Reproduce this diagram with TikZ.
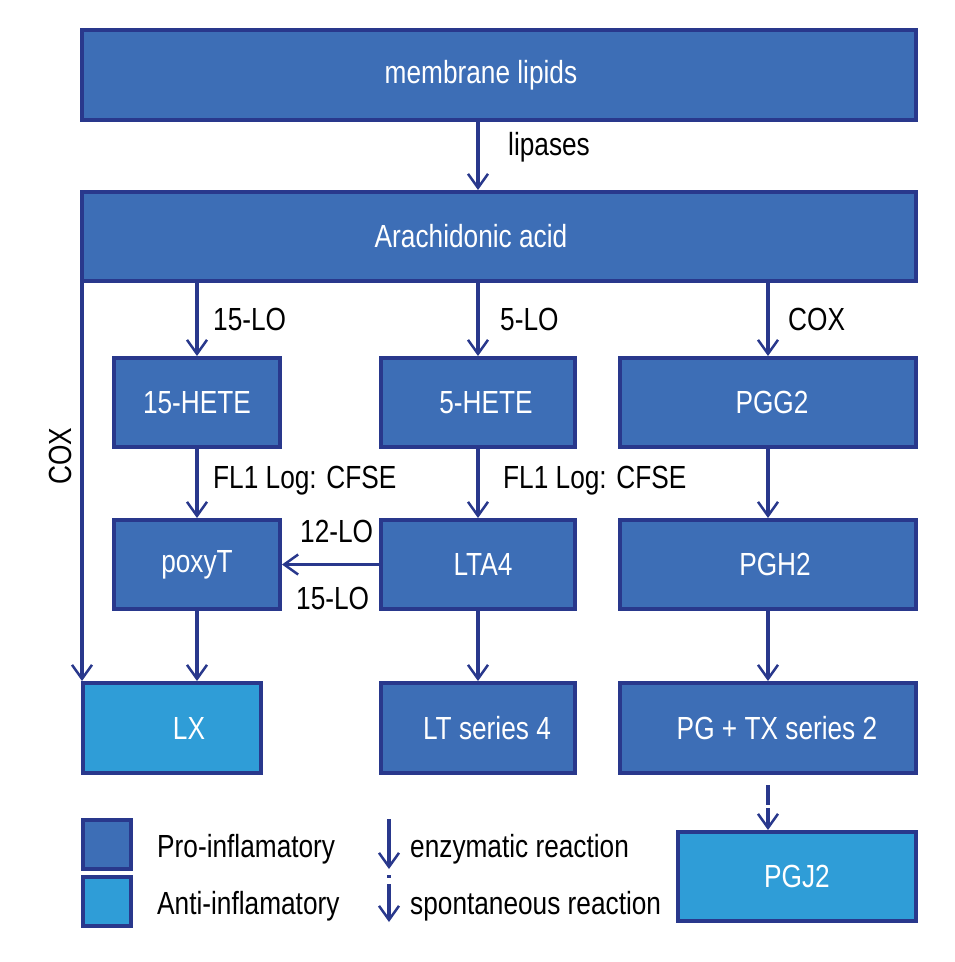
\documentclass[tikz,border=0pt]{standalone}
\usepackage{fontspec}
\setmainfont{Liberation Sans}[FakeStretch=0.82]
\usetikzlibrary{arrows.meta}
\definecolor{procol}{RGB}{61,110,182}
\definecolor{anticol}{RGB}{47,157,215}
\definecolor{navy}{RGB}{41,56,140}
\begin{document}
\begin{tikzpicture}[x=1pt,y=-1pt,
  every node/.style={font=\fontsize{32}{38}\selectfont},
  box/.style={draw=navy, line width=4pt, text=white, inner sep=0pt, minimum height=89pt},
  probox/.style={box, fill=procol},
  antibox/.style={box, fill=anticol},
  arr/.style={draw=navy, line width=3.5pt, -{Straight Barb[length=14pt,width=20pt,line width=2.5pt]}},
  lbl/.style={text=black, anchor=base west, inner sep=0pt},
  legsq/.style={draw=navy, line width=4pt, minimum width=48pt, minimum height=49pt, inner sep=0pt}
]
\useasboundingbox (0,0) rectangle (954,962);

% boxes
\node[probox, minimum width=834pt, minimum height=90pt] (mem) at (499,75) {membrane lipids\hspace*{36pt}};
\node[probox, minimum width=834pt] (ara) at (499,236.5) {Arachidonic acid\hspace*{56pt}};
\node[probox, minimum width=166pt] (h15) at (197,402.5) {15-HETE};
\node[probox, minimum width=194pt] (h5) at (478,402.5) {\hspace*{16pt}5-HETE};
\node[probox, minimum width=296pt] (pgg) at (768,402.5) {\hspace*{8pt}PGG2};
\node[probox, minimum width=166pt] (poxy) at (197,564.5) {poxyT};
\node[probox, minimum width=194pt] (lta) at (478,564.5) {\hspace*{10pt}LTA4};
\node[probox, minimum width=296pt] (pgh) at (768,564.5) {\hspace*{14pt}PGH2};
\node[antibox, minimum width=178pt, minimum height=90pt] (lx) at (172,728) {\hspace*{34pt}LX};
\node[probox, minimum width=194pt, minimum height=90pt] (lt) at (478,728) {\hspace*{18pt}LT series 4};
\node[probox, minimum width=296pt, minimum height=90pt] (pgtx) at (768,728) {\hspace*{18pt}PG + TX series 2};
\node[antibox, minimum width=238pt] (pgj) at (797,876.5) {PGJ2};

% connectors
\draw[arr] (mem.south -| h5) -- (ara.north -| h5);
\draw[arr] (ara.south -| h15) -- (h15.north);
\draw[arr] (ara.south -| h5) -- (h5.north);
\draw[arr] (ara.south -| pgg) -- (pgg.north);
\draw[arr] ([xshift=2pt]ara.south west) -- ([xshift=2pt]ara.south west |- lx.north);
\draw[arr] (h15.south) -- (poxy.north);
\draw[arr] (h5.south) -- (lta.north);
\draw[arr] (pgg.south) -- (pgh.north);
\draw[arr] (lta.west) -- (poxy.east);
\draw[arr] (poxy.south) -- (poxy.south |- lx.north);
\draw[arr] (lta.south) -- (lt.north);
\draw[arr] (pgh.south) -- (pgtx.north);
\draw[arr, dash pattern=on 20pt off 3pt on 80pt, shorten <=10pt] (pgtx.south) -- (pgj.north -| pgtx.south);

% labels
\node[lbl] (llip) at (508,155) {lipases};
\node[lbl] (l15) at (213,330) {15-LO};
\node[lbl] (l5) at (500,330) {5-LO};
\node[lbl] (lcox) at (788,330) {COX};
\node[rotate=90, inner sep=0pt] (lcoxl) at (60,456) {COX};
\node[lbl] (lfl1) at (213,488) {FL1 Log: CFSE};
\node[lbl] (lfl2) at (503,488) {FL1 Log: CFSE};
\node[lbl] (l12) at (300,542) {12-LO};
\node[lbl] (l15b) at (296,609) {15-LO};

% legend
\node[legsq, fill=procol] (sqpro) at (107,844.5) {};
\node[legsq, fill=anticol] (sqanti) at (107,901.5) {};
\node[lbl] (tpro) at (157,857) {Pro-inflamatory};
\node[lbl] (tanti) at (157,914) {Anti-inflamatory};
\coordinate (en1) at (389,819);
\coordinate (en2) at (389,869);
\coordinate (sp1) at (389,875);
\coordinate (sp2) at (389,922);
\draw[arr] (en1) -- (en2);
\draw[arr, dash pattern=on 3pt off 6pt on 80pt] (sp1) -- (sp2);
\node[lbl] (tenz) at (410,857) {enzymatic reaction};
\node[lbl] (tspo) at (410,914) {spontaneous reaction};
\end{tikzpicture}
\end{document}
